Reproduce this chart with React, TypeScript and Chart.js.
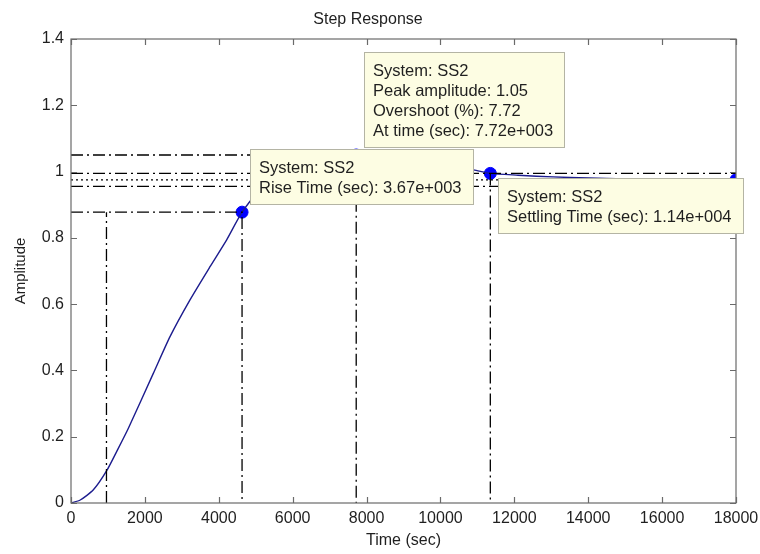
import React, { useEffect, useRef } from 'react';
import { Chart, registerables } from 'chart.js';

Chart.register(...registerables);

// ---------- text ----------
const TITLE = 'Step Response';
const X_LABEL = 'Time (sec)';
const Y_LABEL = 'Amplitude';

// ---------- ticks ----------
const X_TICKS = [0, 2000, 4000, 6000, 8000, 10000, 12000, 14000, 16000, 18000];
const Y_TICKS = [0, 0.2, 0.4, 0.6, 0.8, 1, 1.2, 1.4];

// ---------- step response curve ----------
const TIME = [0, 250, 600, 966, 1280, 1550, 2228, 2680, 3221, 3763, 4214, 4630, 5200, 5800, 6400, 7000, 7720, 8400, 9200, 10000, 10900, 11350, 12100, 12600, 13500, 14500, 15500, 16500, 18000];
const AMPLITUDE = [0, 0.009, 0.039, 0.0975, 0.165, 0.225, 0.391, 0.502, 0.613, 0.713, 0.794, 0.8775, 0.958, 1.006, 1.033, 1.047, 1.05, 1.046, 1.035, 1.02, 1.005, 0.9945, 0.989, 0.986, 0.982, 0.979, 0.977, 0.976, 0.975];

// ---------- characteristics ----------
const RISE_LOW_T = 960;
const RISE_HIGH_T = 4630;
const RISE_HIGH_Y = 0.8775;
const PEAK_T = 7720;
const PEAK_Y = 1.05;
const SETTLE_T = 11350;
const SETTLE_UPPER = 0.9945;
const SETTLE_LOWER = 0.9555;
const FINAL_T = 18000;
const FINAL_Y = 0.975;

// guide lines (x arrays / y arrays)
const PEAK_GUIDE_T = [0, PEAK_T, PEAK_T];
const PEAK_GUIDE_Y = [PEAK_Y, PEAK_Y, 0];
const RISE_GUIDE_T = [0, RISE_HIGH_T, RISE_HIGH_T];
const RISE_GUIDE_Y = [RISE_HIGH_Y, RISE_HIGH_Y, 0];
const RISE_LOW_GUIDE_T = [RISE_LOW_T, RISE_LOW_T];
const RISE_LOW_GUIDE_Y = [0, RISE_HIGH_Y];
const SETTLE_UP_T = [0, FINAL_T];
const SETTLE_UP_Y = [SETTLE_UPPER, SETTLE_UPPER];
const SETTLE_LOW_T = [0, FINAL_T];
const SETTLE_LOW_Y = [SETTLE_LOWER, SETTLE_LOWER];
const SETTLE_V_T = [SETTLE_T, SETTLE_T];
const SETTLE_V_Y = [SETTLE_UPPER, 0];
const FINAL_GUIDE_T = [0, FINAL_T];
const FINAL_GUIDE_Y = [FINAL_Y, FINAL_Y];

// markers
const MARKER_T = [RISE_HIGH_T, PEAK_T, SETTLE_T, FINAL_T];
const MARKER_Y = [RISE_HIGH_Y, PEAK_Y, SETTLE_UPPER, FINAL_Y];

// data tips
const PEAK_TEXT = ['System: SS2', 'Peak amplitude: 1.05', 'Overshoot (%): 7.72', 'At time (sec): 7.72e+003'];
const RISE_TEXT = ['System: SS2', 'Rise Time (sec): 3.67e+003'];
const SETTLE_TEXT = ['System: SS2', 'Settling Time (sec): 1.14e+004'];

const FONT = '"Liberation Sans", Arial, Helvetica, sans-serif';
const AXIS_COLOR = '#6a6a6a';
const TEXT_COLOR = '#1f1f1f';

const pts = (xs: number[], ys: number[]) => xs.map((x, i) => ({ x, y: ys[i] }));

const DASHDOT = [12, 4, 2, 4];
const DOTTED = [2, 3];

function drawTip(ctx: CanvasRenderingContext2D, px: number, py: number, lines: string[], corner: 'bl' | 'tl') {
  ctx.save();
  ctx.font = `16.5px ${FONT}`;
  const lh = 20;
  const tw = Math.max(...lines.map((l) => ctx.measureText(l).width));
  const w = Math.round(tw + 21);
  const h = Math.round(lines.length * lh + 16);
  const left = Math.round(px + 8);
  const top = corner === 'bl' ? Math.round(py - 7 - h) : Math.round(py + 5);
  ctx.fillStyle = '#fdfde3';
  ctx.fillRect(left, top, w, h);
  ctx.strokeStyle = '#b4b4a4';
  ctx.lineWidth = 1;
  ctx.strokeRect(left + 0.5, top + 0.5, w - 1, h - 1);
  ctx.fillStyle = TEXT_COLOR;
  ctx.textBaseline = 'middle';
  ctx.textAlign = 'left';
  lines.forEach((l, i) => ctx.fillText(l, left + 9, top + 8 + lh * i + lh / 2 + 1));
  ctx.restore();
}

const framePlugin = {
  id: 'matlabFrame',
  afterDatasetsDraw(chart: any) {
    const { ctx, chartArea: a, scales } = chart;
    const x = scales.x;
    const y = scales.y;
    ctx.save();
    ctx.strokeStyle = AXIS_COLOR;
    ctx.lineWidth = 1.2;
    ctx.setLineDash([]);
    ctx.strokeRect(a.left, a.top, a.right - a.left, a.bottom - a.top);
    const tl = 6;
    ctx.beginPath();
    X_TICKS.forEach((t) => {
      const px = Math.round(x.getPixelForValue(t)) + 0.5;
      ctx.moveTo(px, a.bottom);
      ctx.lineTo(px, a.bottom - tl);
      ctx.moveTo(px, a.top);
      ctx.lineTo(px, a.top + tl);
    });
    Y_TICKS.forEach((t) => {
      const py = Math.round(y.getPixelForValue(t)) + 0.5;
      ctx.moveTo(a.left, py);
      ctx.lineTo(a.left + tl, py);
      ctx.moveTo(a.right, py);
      ctx.lineTo(a.right - tl, py);
    });
    ctx.stroke();
    ctx.restore();

    drawTip(ctx, x.getPixelForValue(PEAK_T), y.getPixelForValue(PEAK_Y), PEAK_TEXT, 'bl');
    drawTip(ctx, x.getPixelForValue(RISE_HIGH_T), y.getPixelForValue(RISE_HIGH_Y), RISE_TEXT, 'bl');
    drawTip(ctx, x.getPixelForValue(SETTLE_T), y.getPixelForValue(SETTLE_UPPER), SETTLE_TEXT, 'tl');
  },
};

export default function App() {
  const ref = useRef<HTMLCanvasElement | null>(null);

  useEffect(() => {
    if (!ref.current) return;
    const guide = (label: string, xs: number[], ys: number[], dash: number[]) => ({
      label,
      data: pts(xs, ys),
      borderColor: '#000000',
      borderWidth: 1.3,
      borderDash: dash,
      pointRadius: 0,
      fill: false,
      tension: 0,
    });
    const chart = new Chart(ref.current, {
      type: 'line',
      data: {
        datasets: [
          guide('peak', PEAK_GUIDE_T, PEAK_GUIDE_Y, DASHDOT),
          guide('rise', RISE_GUIDE_T, RISE_GUIDE_Y, DASHDOT),
          guide('riseLow', RISE_LOW_GUIDE_T, RISE_LOW_GUIDE_Y, DASHDOT),
          guide('settleUp', SETTLE_UP_T, SETTLE_UP_Y, DASHDOT),
          guide('settleLow', SETTLE_LOW_T, SETTLE_LOW_Y, DASHDOT),
          guide('settleV', SETTLE_V_T, SETTLE_V_Y, DASHDOT),
          guide('final', FINAL_GUIDE_T, FINAL_GUIDE_Y, DOTTED),
          {
            label: 'SS2',
            data: pts(TIME, AMPLITUDE),
            borderColor: '#1c1c8e',
            borderWidth: 1.4,
            pointRadius: 0,
            fill: false,
            tension: 0.2,
          },
          {
            label: 'markers',
            data: pts(MARKER_T, MARKER_Y),
            showLine: false,
            pointRadius: 6,
            pointBackgroundColor: '#0000ff',
            pointBorderColor: '#0000ff',
            pointBorderWidth: 1,
            clip: 0,
          },
        ] as any,
      },
      options: {
        responsive: false,
        animation: false,
        events: [],
        layout: { padding: { left: 0, right: 24, top: 0, bottom: 0 } },
        plugins: {
          legend: { display: false },
          tooltip: { enabled: false },
          title: {
            display: true,
            text: TITLE,
            color: TEXT_COLOR,
            font: { family: FONT, size: 16, weight: 'normal', lineHeight: 1.2 },
            padding: { top: 10, bottom: 9.8 },
          },
        },
        scales: {
          x: {
            type: 'linear',
            min: 0,
            max: 18000,
            grid: { display: false, drawTicks: false, tickLength: 0 },
            border: { display: false },
            afterBuildTicks: (s: any) => {
              s.ticks = X_TICKS.map((v) => ({ value: v }));
            },
            ticks: {
              color: TEXT_COLOR,
              font: { family: FONT, size: 16 },
              padding: 6,
              maxRotation: 0,
              autoSkip: false,
              callback: (v: any) => String(v),
            },
            title: {
              display: true,
              text: X_LABEL,
              color: TEXT_COLOR,
              font: { family: FONT, size: 16, lineHeight: 1.2 },
              padding: { top: 0, bottom: 4 },
            },
            afterFit: (s: any) => {
              s.height = 51;
              s.paddingLeft = 0;
              s.paddingRight = 0;
            },
          },
          y: {
            type: 'linear',
            min: 0,
            max: 1.4,
            grid: { display: false, drawTicks: false, tickLength: 0 },
            border: { display: false },
            afterBuildTicks: (s: any) => {
              s.ticks = Y_TICKS.map((v) => ({ value: v }));
            },
            ticks: {
              color: TEXT_COLOR,
              font: { family: FONT, size: 16 },
              padding: 7,
              autoSkip: false,
              callback: (v: any) => String(Number(Number(v).toFixed(2))),
            },
            title: {
              display: true,
              text: Y_LABEL,
              color: TEXT_COLOR,
              font: { family: FONT, size: 15, lineHeight: 1.2 },
              padding: { top: 12, bottom: 0 },
            },
            afterFit: (s: any) => {
              s.width = 71;
              s.paddingTop = 0;
              s.paddingBottom = 0;
            },
          },
        },
      } as any,
      plugins: [framePlugin],
    });
    return () => chart.destroy();
  }, []);

  return (
    <div style={{ position: 'absolute', left: 0, top: 0, width: 760, height: 554, background: '#ffffff' }}>
      <canvas ref={ref} width={760} height={554} style={{ display: 'block' }} />
    </div>
  );
}
